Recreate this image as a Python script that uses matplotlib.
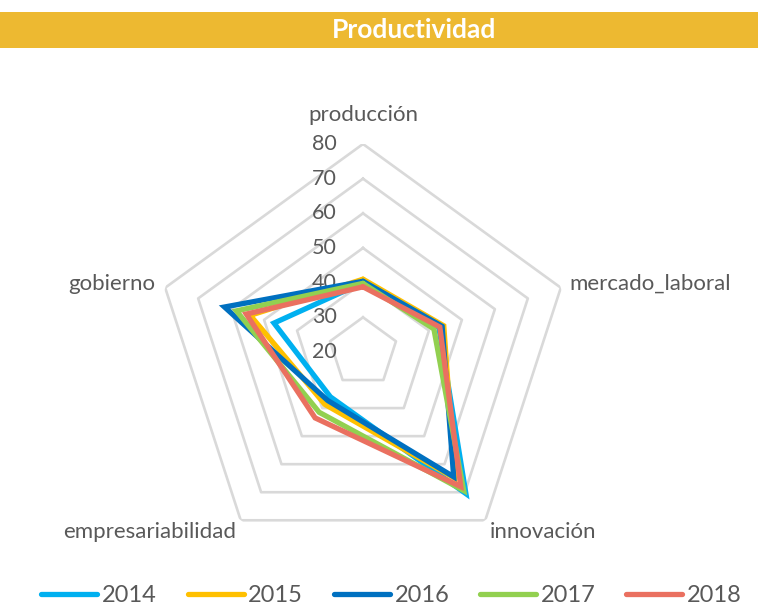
import matplotlib.pyplot as plt
import numpy as np
from matplotlib.patches import Rectangle

categories = ['producción', 'mercado_laboral', 'innovación', 'empresariabilidad', 'gobierno']
years = ['2014', '2015', '2016', '2017', '2018']
v2014 = [40.0, 43.0, 70.5, 36.0, 47.0]
v2015 = [41.0, 44.5, 65.0, 38.7, 54.2]
v2016 = [40.4, 44.0, 64.5, 37.3, 62.0]
v2017 = [39.8, 41.5, 69.4, 41.5, 58.4]
v2018 = [38.8, 43.3, 68.0, 43.5, 55.4]
rings = [30, 40, 50, 60, 70, 80]
tick_labels = [20, 30, 40, 50, 60, 70, 80]

series = [v2014, v2015, v2016, v2017, v2018]
colors = ['#00B0F0', '#FFC000', '#0070C0', '#92D050', '#EA7060']
grey = '#595959'
font = 'Lato'

fig = plt.figure(figsize=(7.58, 6.07), dpi=100)

# title bar
fig.patches.append(Rectangle((0, 1 - 48 / 607), 1, 36 / 607, transform=fig.transFigure,
                             facecolor='#EDB931', edgecolor='none', zorder=0))
fig.text(414 / 758, 1 - 30 / 607, 'Productividad', ha='center', va='center',
         color='white', fontsize=19, fontweight='bold', family=font)

ax = fig.add_axes([155 / 758, 47 / 607, 416 / 758, 416 / 607], projection='polar')
ax.set_theta_offset(np.pi / 2)
ax.set_theta_direction(-1)
ax.set_ylim(20, 80)
ax.grid(False)
ax.spines['polar'].set_visible(False)
ax.set_xticks([])
ax.set_yticks([])
ax.patch.set_alpha(0)

n = len(categories)
angles = np.linspace(0, 2 * np.pi, n, endpoint=False)
closed = np.append(angles, angles[0])

for r in rings:
    ax.plot(closed, [r] * (n + 1), color='#D9D9D9', lw=1.9, zorder=1)

for vals, c, y in zip(series, colors, years):
    ax.plot(closed, vals + vals[:1], color=c, lw=3.8, label=y, zorder=3,
            solid_joinstyle='miter', solid_capstyle='round')

for t in tick_labels:
    ax.annotate(str(t), xy=(0, t), xytext=(-19, 0), textcoords='offset points',
                ha='right', va='center', fontsize=15.5, color=grey, family=font, zorder=2)

offsets = [((0, 14), 'center', 'bottom'),
           ((6, 3), 'left', 'center'),
           ((3, -1), 'left', 'top'),
           ((-3, -1), 'right', 'top'),
           ((-7, 3), 'right', 'center')]
for a, lab, (off, ha, va) in zip(angles, categories, offsets):
    ax.annotate(lab, xy=(a, 80), xytext=off, textcoords='offset points',
                ha=ha, va=va, fontsize=16, color=grey, family=font)

leg = fig.legend(loc='center', bbox_to_anchor=(0.5165, 1 - 596 / 607), ncol=5, frameon=False,
                 handlelength=2.37, handletextpad=0.2, columnspacing=1.3,
                 prop={'family': font, 'size': 17})
for t in leg.get_texts():
    t.set_color(grey)

fig.savefig('out.png', dpi=100)
